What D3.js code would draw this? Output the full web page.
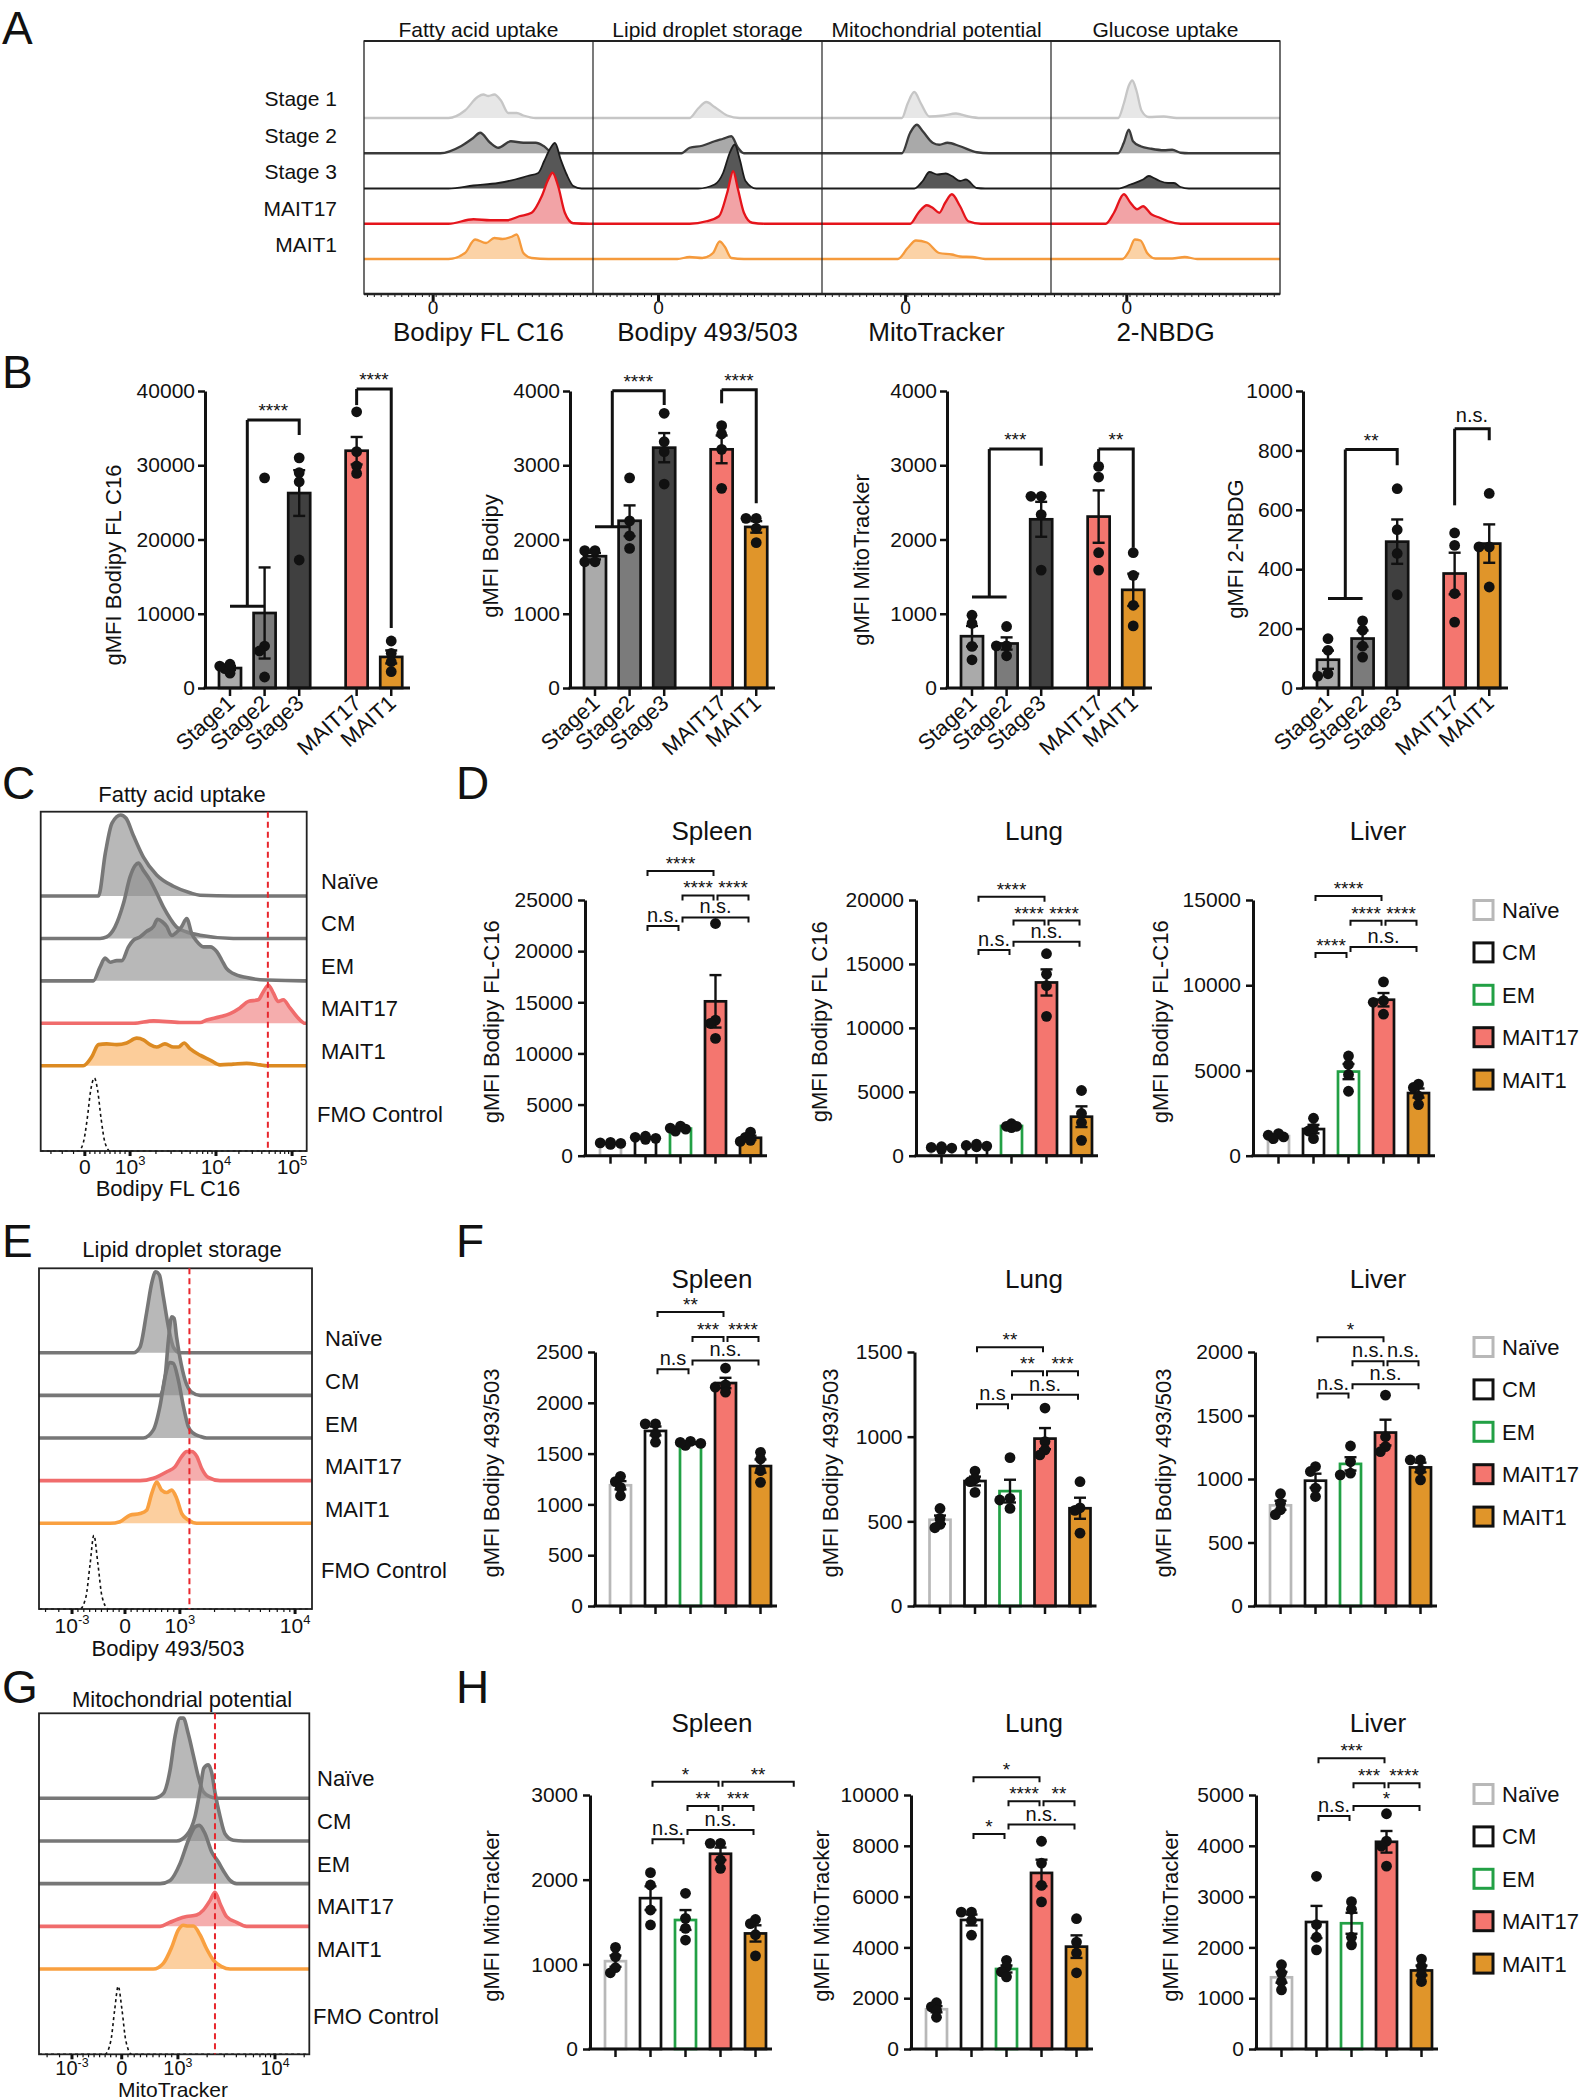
<!DOCTYPE html>
<html><head><meta charset="utf-8">
<script src="https://cdn.jsdelivr.net/npm/d3@7"></script>
<style>body{margin:0;background:#fff}svg{display:block}</style>
</head><body>
<script>
// ================= DATA =================
// ---- Panel A: histograms (channel 0-1000 within each column, relative count) ----
const aRowLabels = ["Stage 1","Stage 2","Stage 3","MAIT17","MAIT1"];
const aAssayTitles = ["Fatty acid uptake","Lipid droplet storage","Mitochondrial potential","Glucose uptake"];
const aAxisTitles = ["Bodipy FL C16","Bodipy 493/503","MitoTracker","2-NBDG"];
const aZeroChannel = [302, 286, 365, 331];
const aFattyAcid = [
  [[369,0],[441,15],[496,42],[521,47],[543,44],[569,47],[598,35],[630,10],[667,10],[696,5],[750,0]],
  [[333,0],[423,14],[478,31],[507,41],[551,21],[587,11],[641,24],[696,21],[750,21],[786,14],[823,1],[877,0]],
  [[369,0],[478,6],[587,11],[660,18],[714,25],[761,31],[787,55],[812,79],[834,91],[859,58],[885,28],[914,5],[950,0]],
  [[369,0],[478,9],[551,7],[623,7],[678,15],[732,22],[776,55],[805,89],[823,102],[848,75],[877,22],[914,1],[986,0]],
  [[369,0],[441,12],[485,39],[533,32],[569,42],[605,40],[641,44],[667,49],[696,12],[732,2],[805,0]]
];
const aLipidDroplet = [
  [[422,0],[459,19],[495,32],[531,22],[586,5],[641,0]],
  [[386,0],[422,11],[477,15],[531,24],[568,29],[604,34],[633,11],[659,0]],
  [[459,0],[531,8],[568,31],[597,71],[619,88],[641,58],[666,15],[713,0]],
  [[422,0],[495,5],[550,15],[586,62],[612,105],[633,69],[659,22],[695,2],[750,0]],
  [[368,0],[422,4],[477,2],[524,12],[553,35],[575,25],[604,2],[659,0]]
];
const aMito = [
  [[349,0],[374,29],[403,52],[432,29],[469,3],[530,5],[585,9],[639,3],[694,0]],
  [[349,0],[385,41],[414,57],[440,44],[483,21],[512,17],[548,21],[603,14],[676,2],[730,0]],
  [[403,0],[440,15],[469,33],[505,28],[541,30],[567,25],[603,15],[628,18],[676,1],[712,0]],
  [[385,0],[421,22],[458,37],[483,32],[512,22],[538,42],[567,59],[603,35],[639,5],[694,0]],
  [[331,0],[374,22],[410,37],[458,33],[512,12],[567,9],[603,5],[657,4],[712,0]]
];
const aGlucose = [
  [[293,0],[318,29],[340,65],[355,75],[373,55],[395,15],[427,2],[493,3],[548,0]],
  [[293,0],[318,21],[340,47],[358,24],[391,14],[438,9],[493,6],[529,7],[566,1],[602,0]],
  [[293,0],[347,8],[402,18],[427,25],[449,21],[475,15],[511,11],[537,11],[566,3],[602,0]],
  [[239,0],[275,22],[318,59],[347,42],[376,29],[402,35],[438,19],[475,12],[511,5],[566,0]],
  [[312,0],[340,15],[366,39],[391,37],[420,12],[456,1],[529,1],[584,4],[638,0]]
];

// ---- Panel B: bar charts (4 replicates each) ----
const bGroups = ["Stage1","Stage2","Stage3","MAIT17","MAIT1"];
const bFattyAcid = [[2000,2600,3200,2950],[28300,5650,4980,1480],[31000,29000,27780,17240],[37200,31830,29900,28900],[6330,4670,3540,2200]];
const bLipid = [[1700,1850,1850,1700],[2830,2250,2050,1880],[3700,3317,3183,2747],[3533,3421,3214,2689],[2285,2285,2151,1957]];
const bMito = [[980,870,560,380],[828,568,568,434],[2582,2582,2336,1588],[2984,2841,1822,1588],[1822,1517,1114,836]];
const bGlucose = [[166,127,48,40],[226,195,141,104],[671,533,453,314],[522,480,318,222],[655,475,475,340]];
const bFattyAcidSig = [{from:[0,1],fromY:11000,to:2,toY:34070,topY:36100,label:"****"},{from:[3],fromY:38100,to:4,toY:8080,topY:40270,label:"****"}];
const bLipidSig = [{from:[0,1],fromY:2172,to:2,toY:3811,topY:4003,label:"****"},{from:[3],fromY:3834,to:4,toY:2487,topY:4018,label:"****"}];
const bMitoSig = [{from:[0,1],fromY:1226,to:2,toY:2993,topY:3218,label:"***"},{from:[3],fromY:3051,to:4,toY:1889,topY:3218,label:"**"}];
const bGlucoseSig = [{from:[0,1],fromY:301,to:2,toY:750,topY:803,label:"**"},{from:[3],fromY:615,to:4,toY:834,topY:873,label:"n.s."}];

// ---- Panels C, E, G: histograms (channel 0-1000, relative count) ----
const subsetLabels = ["Naïve","CM","EM","MAIT17","MAIT1","FMO Control"];
const cCurves = [
  [[217,0],[243,53],[268,90],[301,100],[321,96],[348,75],[386,48],[436,26],[499,12],[561,4],[599,1],[724,0]],
  [[223,0],[248,2],[279,14],[311,43],[336,76],[355,90],[367,93],[386,84],[411,72],[436,56],[461,39],[486,25],[511,14],[549,8],[599,4],[724,0]],
  [[198,0],[223,17],[242,28],[261,23],[286,25],[305,25],[330,42],[348,50],[373,54],[398,61],[424,67],[439,76],[457,73],[474,67],[492,56],[511,60],[530,67],[549,77],[568,58],[586,49],[612,42],[637,42],[662,36],[680,26],[699,15],[724,9],[774,4],[850,1],[990,0]],
  [[350,0],[424,3],[524,1],[599,1],[624,4],[674,8],[712,12],[749,19],[781,27],[818,29],[837,39],[856,47],[875,37],[893,27],[912,29],[937,19],[969,6],[994,0]],
  [[160,0],[192,11],[217,26],[248,27],[286,26],[323,28],[361,34],[386,32],[411,26],[436,23],[467,27],[499,23],[518,23],[539,28],[561,21],[599,13],[637,7],[674,1],[724,2],[774,3],[825,1],[850,0]],
  [[142,0],[160,10],[175,40],[188,75],[202,90],[214,75],[227,40],[242,10],[261,0]]
];
const cTickLabels = ["0","10^3","10^4","10^5"];
const cTickChannels = [166,336,659,945];
const cMarkerChannel = 854;
const eCurves = [
  [[346,0],[370,7],[394,49],[413,86],[427,100],[441,96],[455,70],[474,32],[492,7],[516,0]],
  [[443,0],[462,23],[474,68],[486,97],[495,95],[504,72],[516,47],[535,19],[559,4],[590,0]],
  [[382,0],[419,10],[443,39],[462,76],[480,93],[492,92],[510,72],[529,39],[547,14],[565,6],[590,2],[614,0]],
  [[370,0],[419,3],[468,11],[498,17],[523,30],[541,36],[559,36],[578,30],[596,15],[620,4],[663,0]],
  [[260,0],[297,2],[333,10],[370,12],[394,16],[413,37],[431,51],[449,41],[468,38],[486,41],[504,31],[523,12],[547,4],[578,0]],
  [[150,0],[172,15],[187,55],[201,91],[216,55],[231,15],[254,0]]
];
const eTickLabels = ["10^-3","0","10^3","10^4"];
const eTickChannels = [121,315,516,938];
const eMarkerChannel = 551;
const gCurves = [
  [[423,0],[460,6],[485,35],[503,76],[522,99],[534,99],[552,80],[571,53],[589,27],[608,8],[633,2],[657,0]],
  [[509,0],[546,7],[577,30],[596,63],[610,90],[626,94],[639,84],[651,60],[670,30],[688,9],[719,1],[756,0]],
  [[448,0],[485,4],[522,25],[552,53],[577,70],[593,72],[614,62],[639,39],[663,27],[682,16],[707,4],[731,0]],
  [[448,0],[485,5],[515,9],[546,12],[583,14],[608,20],[633,32],[651,42],[670,28],[694,12],[731,5],[768,0]],
  [[423,0],[460,7],[491,27],[515,48],[534,54],[552,53],[571,53],[596,42],[620,25],[645,11],[676,3],[707,0]],
  [[244,0],[266,17],[280,55],[293,84],[307,55],[321,17],[343,0]]
];
const gTickLabels = ["10^-3","0","10^3","10^4"];
const gTickChannels = [122,306,514,873];
const gMarkerChannel = 651;

// ---- Panels D, F, H: bar charts by tissue ----
const tissueGroups = ["Naïve","CM","EM","MAIT17","MAIT1"];
const tissues = ["Spleen","Lung","Liver"];
const dSpleen = [[1100,1300,1200,1250],[1600,1900,1800,1700],[2400,2900,2700,2600],[22700,13260,12940,11470],[2300,1800,1500,1400]];
const dLung = [[600,700,500,650],[900,800,750,700],[2500,2300,2200,2300],[15800,14200,13300,10900],[5100,3300,2600,1200]];
const dLiver = [[1100,1300,1200,1000],[2200,1600,1450,1000],[5850,5350,4760,3780],[10200,9100,9000,8300],[4200,4000,3500,3000]];
const dSpleenSig = [{a:1,b:3,y:27830,label:"****"},{a:2,b:3,y:25450,label:"****"},{a:3,b:4,y:25450,label:"****"},{a:1,b:2,y:22450,label:"n.s."},{a:2,b:4,y:23300,label:"n.s."}];
const dLungSig = [{a:1,b:3,y:20260,label:"****"},{a:2,b:3,y:18390,label:"****"},{a:3,b:4,y:18390,label:"****"},{a:1,b:2,y:16090,label:"n.s."},{a:2,b:4,y:16740,label:"n.s."}];
const dLiverSig = [{a:1,b:3,y:15240,label:"****"},{a:2,b:3,y:13780,label:"****"},{a:3,b:4,y:13780,label:"****"},{a:1,b:2,y:11890,label:"****"},{a:2,b:4,y:12250,label:"n.s."}];
const fSpleen = [[1276,1224,1168,1085],[1793,1793,1694,1612],[1620,1600,1580,1610],[2342,2177,2154,2105],[1513,1447,1332,1217]];
const fLung = [[576,517,482,462],[797,750,734,671],[876,636,626,576],[1169,971,922,892],[734,580,565,430]];
const fLiver = [[884,810,758,719],[1098,1059,928,862],[1260,1137,1046,1033],[1660,1333,1255,1215],[1150,1150,1072,993]];
const fSpleenSig = [{a:1,b:3,y:2894,label:"**"},{a:2,b:3,y:2648,label:"***"},{a:3,b:4,y:2648,label:"****"},{a:1,b:2,y:2329,label:"n.s"},{a:2,b:4,y:2417,label:"n.s."}];
const fLungSig = [{a:1,b:3,y:1528,label:"**"},{a:2,b:3,y:1386,label:"**"},{a:3,b:4,y:1386,label:"***"},{a:1,b:2,y:1192,label:"n.s"},{a:2,b:4,y:1248,label:"n.s."}];
const fLiverSig = [{a:1,b:3,y:2117,label:"*"},{a:2,b:3,y:1927,label:"n.s."},{a:3,b:4,y:1927,label:"n.s."},{a:1,b:2,y:1673,label:"n.s."},{a:2,b:4,y:1746,label:"n.s."}];
const hSpleen = [[1200,1090,960,900],[2083,1937,1642,1465],[1839,1543,1425,1287],[2429,2429,2232,2134],[1530,1480,1350,1100]];
const hLung = [[1820,1660,1530,1250],[5390,5390,5060,4480],[3490,3230,3040,2840],[8180,7320,6440,5790],[5130,4210,3780,3000]];
const hLiver = [[1658,1493,1329,1164],[3400,2450,2200,1950],[2900,2750,2200,2050],[4631,4092,3993,3599],[1770,1625,1461,1329]];
const hSpleenSig = [{a:1,b:3,y:3157,label:"*"},{a:3,b:5.15,y:3157,label:"**"},{a:2,b:3,y:2870,label:"**"},{a:3,b:4,y:2870,label:"***"},{a:1,b:2,y:2476,label:"n.s."},{a:2,b:4,y:2587,label:"n.s."}];
const hLungSig = [{a:1,b:3,y:10695,label:"*"},{a:2,b:3,y:9752,label:"****"},{a:3,b:4,y:9752,label:"**"},{a:1,b:2,y:8469,label:"*"},{a:2,b:4,y:8836,label:"n.s."}];
const hLiverSig = [{a:1,b:3,y:5724,label:"***"},{a:2,b:3,y:5230,label:"***"},{a:3,b:4,y:5230,label:"****"},{a:1,b:2,y:4586,label:"n.s."},{a:2,b:4,y:4783,label:"*"}];

// ================= DRAWING =================
const FONT = "'Liberation Sans', Arial, Helvetica, sans-serif";
const INK = "#111";
const svg = d3.select("body").append("svg").attr("width",1588).attr("height",2100).style("font-family",FONT);
svg.append("rect").attr("width",1588).attr("height",2100).attr("fill","#fff");

function text(g, x, y, s, o = {}) {
  const size = o.size || 21;
  const t = g.append("text").attr("x", x).attr("y", y).attr("font-size", size)
    .attr("text-anchor", o.anchor || "start").attr("fill", o.fill || INK).attr("font-family", FONT);
  if (o.rotate != null) t.attr("transform", `rotate(${o.rotate},${x},${y})`);
  const parts = String(s).split("^");
  t.append("tspan").text(parts[0]);
  if (parts.length > 1) t.append("tspan").attr("dy", -size * 0.42).attr("font-size", size * 0.62).text(parts[1]);
  return t;
}
function seg(g, x1, y1, x2, y2, w, col) {
  return g.append("line").attr("x1",x1).attr("y1",y1).attr("x2",x2).attr("y2",y2).attr("stroke",col||INK).attr("stroke-width",w||2);
}
function drawCurve(g, pts, x, base, h, st) {
  const full = pts.slice();
  if (full[0][0] > 0) full.unshift([0, 0]);
  if (full[full.length-1][0] < 1000) full.push([1000, 0]);
  const area = d3.area().x(d => x(d[0])).y0(base).y1(d => base - h(d[1])).curve(d3.curveMonotoneX);
  const line = d3.line().x(d => x(d[0])).y(d => base - h(d[1])).curve(d3.curveMonotoneX);
  if (st.fill) g.append("path").attr("d", area(full)).attr("fill", st.fill).attr("fill-opacity", st.op == null ? 1 : st.op);
  g.append("path").attr("d", line(full)).attr("fill", "none").attr("stroke", st.stroke)
    .attr("stroke-width", st.w || 3.5).attr("stroke-dasharray", st.dash || null).attr("stroke-linejoin", "round");
}

// panel letters
[["A",2,44],["B",2,388],["C",2,799],["D",456,799],["E",2,1257],["F",456,1257],["G",2,1703],["H",456,1703]]
  .forEach(([l,x,y]) => text(svg, x, y, l, {size: 46}));

// ---------- Panel A ----------
(function panelA() {
  const g = svg.append("g");
  const left = 364, right = 1280, top = 41, bottom = 294;
  const colW = (right - left) / 4;
  const rowBase = d3.scaleLinear().domain([0, 4]).range([118, 259]);
  const labelBase = d3.scaleLinear().domain([0, 4]).range([106, 252]);
  const h = d3.scaleLinear().domain([0, 100]).range([0, 50]);
  const styles = [
    {stroke:"#c6c6c6", fill:"#e7e7e7", w:2.3},
    {stroke:"#3b3b3b", fill:"#a9a9a9", w:2.3},
    {stroke:"#1c1c1c", fill:"#575757", w:1.8},
    {stroke:"#e5141b", fill:"#f2a3a6", w:2.3},
    {stroke:"#f59a3c", fill:"#fbd2a6", w:2.3}
  ];
  [aFattyAcid, aLipidDroplet, aMito, aGlucose].forEach((curves, c) => {
    const x = d3.scaleLinear().domain([0, 1000]).range([left + c * colW, left + (c + 1) * colW]);
    curves.forEach((pts, r) => drawCurve(g, pts, x, rowBase(r), h, styles[r]));
    text(g, x(500), 37, aAssayTitles[c], {size: 21, anchor: "middle"});
    d3.range(15, 1000, 30).forEach(v => seg(g, x(v), bottom, x(v), bottom + 3, 1));
    seg(g, x(aZeroChannel[c]), bottom, x(aZeroChannel[c]), bottom + 7, 3);
    text(g, x(aZeroChannel[c]), 314, "0", {size: 19, anchor: "middle"});
    text(g, x(500), 341, aAxisTitles[c], {size: 26, anchor: "middle"});
    if (c > 0) seg(g, x(0), top, x(0), bottom, 1.2, "#222");
  });
  g.append("rect").attr("x", left).attr("y", top).attr("width", right - left).attr("height", bottom - top)
    .attr("fill", "none").attr("stroke", "#222").attr("stroke-width", 1.3);
  seg(g, left, top, right, top, 2.2, "#222");
  seg(g, left, bottom, right, bottom, 2.5, "#222");
  aRowLabels.forEach((l, r) => text(g, 337, labelBase(r), l, {size: 21, anchor: "end"}));
})();

// ---------- generic bar chart ----------
function dodge(ys, r) {
  const idx = d3.range(ys.length).sort((a, b) => ys[a] - ys[b]);
  const placed = [], off = Array(ys.length).fill(0);
  for (const i of idx) {
    for (const k of [0, -1, 1, -2, 2]) {
      const px = k * r * 0.95;
      if (placed.every(p => Math.hypot(p[0] - px, p[1] - ys[i]) >= r * 1.05)) { off[i] = px; placed.push([px, ys[i]]); break; }
    }
  }
  return off;
}
function barChart(c) {
  const g = svg.append("g");
  const y = d3.scaleLinear().domain([0, c.max]).range([c.yBottom, c.yTop]);
  const xc = i => c.x0 + c.first + c.slot(i) * c.spacing;
  c.data.forEach((vals, i) => {
    const m = d3.mean(vals), se = d3.deviation(vals) / Math.sqrt(vals.length), cx = xc(i);
    g.append("rect").attr("x", cx - c.bw / 2).attr("y", y(m)).attr("width", c.bw).attr("height", c.yBottom - y(m))
      .attr("fill", c.fills[i]).attr("stroke", c.strokes[i]).attr("stroke-width", 2.7);
    seg(g, cx, y(m - se), cx, y(m + se), 2.4);
    seg(g, cx - 6, y(m + se), cx + 6, y(m + se), 2.4);
    seg(g, cx - 6, y(m - se), cx + 6, y(m - se), 2.4);
    const off = dodge(vals.map(v => y(v)), 5.4);
    vals.forEach((v, k) => g.append("circle").attr("cx", cx + off[k]).attr("cy", y(v)).attr("r", 5.4).attr("fill", INK));
  });
  const ax = g.append("g").attr("transform", `translate(${c.x0},0)`)
    .call(d3.axisLeft(y).tickValues(d3.range(0, c.max + 1e-6, c.step)).tickSize(7).tickPadding(c.pad).tickSizeOuter(0).tickFormat(d3.format("d")));
  ax.select(".domain").attr("stroke", INK).attr("stroke-width", 3);
  ax.selectAll(".tick line").attr("stroke", INK).attr("stroke-width", 2.5);
  ax.selectAll(".tick text").attr("font-size", 21).attr("fill", INK).attr("font-family", FONT);
  seg(g, c.x0 - 1.5, c.yBottom, c.x0 + c.len, c.yBottom, 3);
  c.data.forEach((_, i) => seg(g, xc(i), c.yBottom, xc(i), c.yBottom + 8, 2.5));
  text(g, c.ylabelX, c.ylabelY, c.ylabel, {size: 22, anchor: "middle", rotate: -90});
  if (c.title) text(g, c.titleX, c.titleY, c.title, {size: 26, anchor: "middle"});
  if (c.xLabels) c.xLabels.forEach((l, i) => text(g, xc(i) + 6, c.yBottom + 17, l, {size: 22, anchor: "end", rotate: -42}));
  (c.sig || []).forEach(s => {
    const stars = s.label.indexOf("*") >= 0;
    const fs = stars ? 19 : 20;
    if (s.from) {
      const yt = y(s.topY);
      let xl;
      if (s.from.length === 2) {
        const a = xc(s.from[0]), b = xc(s.from[1]), yy = y(s.fromY);
        seg(g, a, yy, b, yy, 3); xl = (a + b) / 2;
        seg(g, xl, yy, xl, yt, 3);
      } else { xl = xc(s.from[0]); seg(g, xl, y(s.fromY), xl, yt, 3); }
      const xr = xc(s.to);
      g.append("path").attr("d", `M${xl},${yt}H${xr}V${y(s.toY)}`).attr("fill", "none").attr("stroke", INK).attr("stroke-width", 3);
      text(g, (xl + xr) / 2, yt - (stars ? 3 : 7), s.label, {size: fs, anchor: "middle"});
    } else {
      const xa = xc(s.a) + 2, xb = xc(s.b) - 2, yy = y(s.y);
      g.append("path").attr("d", `M${xa},${yy + 5}V${yy}H${xb}V${yy + 5}`).attr("fill", "none").attr("stroke", INK).attr("stroke-width", 2);
      text(g, (xa + xb) / 2, yy - (stars ? 1 : 4), s.label, {size: fs, anchor: "middle"});
    }
  });
}

// ---------- Panel B ----------
(function panelB() {
  const fills = ["#aaaaaa","#7b7b7b","#404040","#f4766f","#e0952a"];
  const strokes = Array(5).fill(INK);
  const slot = i => (i < 3 ? i : i + 0.66);
  const charts = [
    {x0:205, data:bFattyAcid, sig:bFattyAcidSig, max:40000, step:10000, ylabel:"gMFI Bodipy FL C16", ylabelX:121, ylabelY:565},
    {x0:570, data:bLipid, sig:bLipidSig, max:4000, step:1000, ylabel:"gMFI Bodipy", ylabelX:498, ylabelY:556},
    {x0:947, data:bMito, sig:bMitoSig, max:4000, step:1000, ylabel:"gMFI MitoTracker", ylabelX:869, ylabelY:560},
    {x0:1303, data:bGlucose, sig:bGlucoseSig, max:1000, step:200, ylabel:"gMFI 2-NBDG", ylabelX:1243, ylabelY:549}
  ];
  charts.forEach(c => barChart(Object.assign({yTop:391, yBottom:688, first:25, spacing:34.6, slot, bw:22, len:205, pad:3,
    fills, strokes, xLabels:bGroups}, c)));
})();

// ---------- Histogram panels C, E, G ----------
function minorTicks(labels, chs) {
  const out = [];
  for (let i = 0; i < chs.length - 1; i++) {
    const a = chs[i], b = chs[i + 1];
    const isLog = labels[i].startsWith("10^") && labels[i + 1].startsWith("10^") && labels[i].indexOf("-") < 0;
    for (let m = 2; m < 10; m++) out.push(isLog ? a + (b - a) * Math.log10(m) : a + (b - a) * (m - 1) / 9);
  }
  const n = chs.length, d = chs[n - 1] - chs[n - 2];
  for (let m = 2; m < 10; m++) { const v = chs[n - 1] + d * Math.log10(m); if (v <= 1000) out.push(v); }
  const d0 = chs[1] - chs[0];
  for (let k = 1; k < 5; k++) { const v = chs[0] - d0 * k / 4; if (v >= 0) out.push(v); }
  return out;
}
function histPanel(c) {
  const g = svg.append("g");
  const x = d3.scaleLinear().domain([0, 1000]).range([c.left, c.right]);
  const h = d3.scaleLinear().domain([0, 100]).range([0, 81]);
  const rowBase = d3.scaleLinear().domain([0, 4]).range([c.firstBase, c.lastBase]);
  const gray = {stroke:"#777777", fill:"#8c8c8c", op:0.62, w:3.6};
  const styles = [gray, gray, gray,
    {stroke:"#f06c6c", fill:"#ef7a7a", op:0.62, w:3.6},
    c.mait1Style,
    {stroke:"#111", dash:"3,3", w:1.6}];
  c.curves.forEach((pts, i) => drawCurve(g, pts, x, i < 5 ? rowBase(i) : c.bottom, h, styles[i]));
  g.append("rect").attr("x", c.left).attr("y", c.top).attr("width", c.right - c.left).attr("height", c.bottom - c.top)
    .attr("fill", "none").attr("stroke", "#222").attr("stroke-width", 1.8);
  seg(g, x(c.marker), c.top, x(c.marker), c.bottom, 2, "#e8262c").attr("stroke-dasharray", "6,4");
  minorTicks(c.tickLabels, c.tickCh).forEach(v => seg(g, x(v), c.bottom, x(v), c.bottom + 3, 1.2));
  c.tickCh.forEach((v, i) => {
    seg(g, x(v), c.bottom, x(v), c.bottom + 5, 3);
    text(g, x(v), c.tickY, c.tickLabels[i], {size: c.tickSize || 21, anchor: "middle"});
  });
  text(g, c.axisTitleX, c.axisTitleY, c.axisTitle, {size: c.axisTitleSize || 22, anchor: "middle"});
  text(g, 182, c.titleY, c.title, {size: 22, anchor: "middle"});
  subsetLabels.forEach((l, i) => text(g, i < 5 ? c.labelX : c.labelX - 4, i < 5 ? rowBase(i) - c.labelDy : c.fmoLabelY, l, {size: 22}));
}
histPanel({curves:cCurves, left:40.7, right:306.7, top:811.7, bottom:1151, firstBase:896, lastBase:1065.7,
  labelX:321, labelDy:7, fmoLabelY:1122, title:"Fatty acid uptake", titleY:802, tickLabels:cTickLabels, tickCh:cTickChannels,
  tickY:1174, axisTitle:"Bodipy FL C16", axisTitleX:168, axisTitleY:1196, marker:cMarkerChannel,
  mait1Style:{stroke:"#dc8a22", fill:"#fcc488", op:0.85, w:3.6}});
histPanel({curves:eCurves, left:39, right:312, top:1268.3, bottom:1609, firstBase:1352.7, lastBase:1523.3,
  labelX:325, labelDy:6.5, fmoLabelY:1578, title:"Lipid droplet storage", titleY:1257, tickLabels:eTickLabels, tickCh:eTickChannels,
  tickY:1633, axisTitle:"Bodipy 493/503", axisTitleX:168, axisTitleY:1656, marker:eMarkerChannel,
  mait1Style:{stroke:"#f9a040", fill:"#fbc78e", op:0.85, w:3.6}});
histPanel({curves:gCurves, left:39, right:309.3, top:1713.3, bottom:2054.3, firstBase:1798.3, lastBase:1969,
  labelX:317, labelDy:12, fmoLabelY:2024, title:"Mitochondrial potential", titleY:1707, tickLabels:gTickLabels, tickCh:gTickChannels,
  tickY:2075, tickSize:20, axisTitle:"MitoTracker", axisTitleX:173, axisTitleY:2097, axisTitleSize:21, marker:gMarkerChannel,
  mait1Style:{stroke:"#f9a040", fill:"#fbc78e", op:0.85, w:3.6}});

// ---------- Panels D, F, H ----------
(function tissuePanels() {
  const fills = ["#ffffff","#ffffff","#ffffff","#f4766f","#e0952a"];
  const strokes = ["#b8b8b8", INK, "#22a045", INK, INK];
  const panels = [
    {yTop:900, yBottom:1155.7, titleY:840, x0:[585,916,1253], ylabX:[499,827,1168], data:[dSpleen,dLung,dLiver],
     sig:[dSpleenSig,dLungSig,dLiverSig], max:[25000,20000,15000], step:[5000,5000,5000],
     ylabels:["gMFI Bodipy FL-C16","gMFI Bodipy FL C16","gMFI Bodipy FL-C16"], legendTop:910},
    {yTop:1352, yBottom:1606, titleY:1288, x0:[595,914.5,1255], ylabX:[499,838,1171], data:[fSpleen,fLung,fLiver],
     sig:[fSpleenSig,fLungSig,fLiverSig], max:[2500,1500,2000], step:[500,500,500],
     ylabels:["gMFI Bodipy 493/503","gMFI Bodipy 493/503","gMFI Bodipy 493/503"], legendTop:1347},
    {yTop:1795, yBottom:2049, titleY:1732, x0:[590,911,1256], ylabX:[499,829,1178], data:[hSpleen,hLung,hLiver],
     sig:[hSpleenSig,hLungSig,hLiverSig], max:[3000,10000,5000], step:[1000,2000,1000],
     ylabels:["gMFI MitoTracker","gMFI MitoTracker","gMFI MitoTracker"], legendTop:1794}
  ];
  const titleX = [712, 1034, 1378];
  panels.forEach(p => {
    tissues.forEach((t, k) => barChart({x0:p.x0[k], yTop:p.yTop, yBottom:p.yBottom, first:25.5, spacing:35, slot:i => i,
      bw:21, len:182, pad:5, fills, strokes, data:p.data[k], sig:p.sig[k], max:p.max[k], step:p.step[k],
      ylabel:p.ylabels[k], ylabelX:p.ylabX[k], ylabelY:(p.yTop + p.yBottom) / 2 - 6, title:t, titleX:titleX[k], titleY:p.titleY}));
    const lg = svg.append("g");
    const ly = d3.scaleLinear().domain([0, 4]).range([p.legendTop, p.legendTop + 4 * 42.4]);
    tissueGroups.forEach((l, i) => {
      lg.append("rect").attr("x", 1474).attr("y", ly(i) - 9.5).attr("width", 19).attr("height", 19)
        .attr("fill", fills[i]).attr("stroke", strokes[i]).attr("stroke-width", 3);
      text(lg, 1502, ly(i) + 8, l, {size: 22});
    });
  });
})();
</script>
</body></html>
